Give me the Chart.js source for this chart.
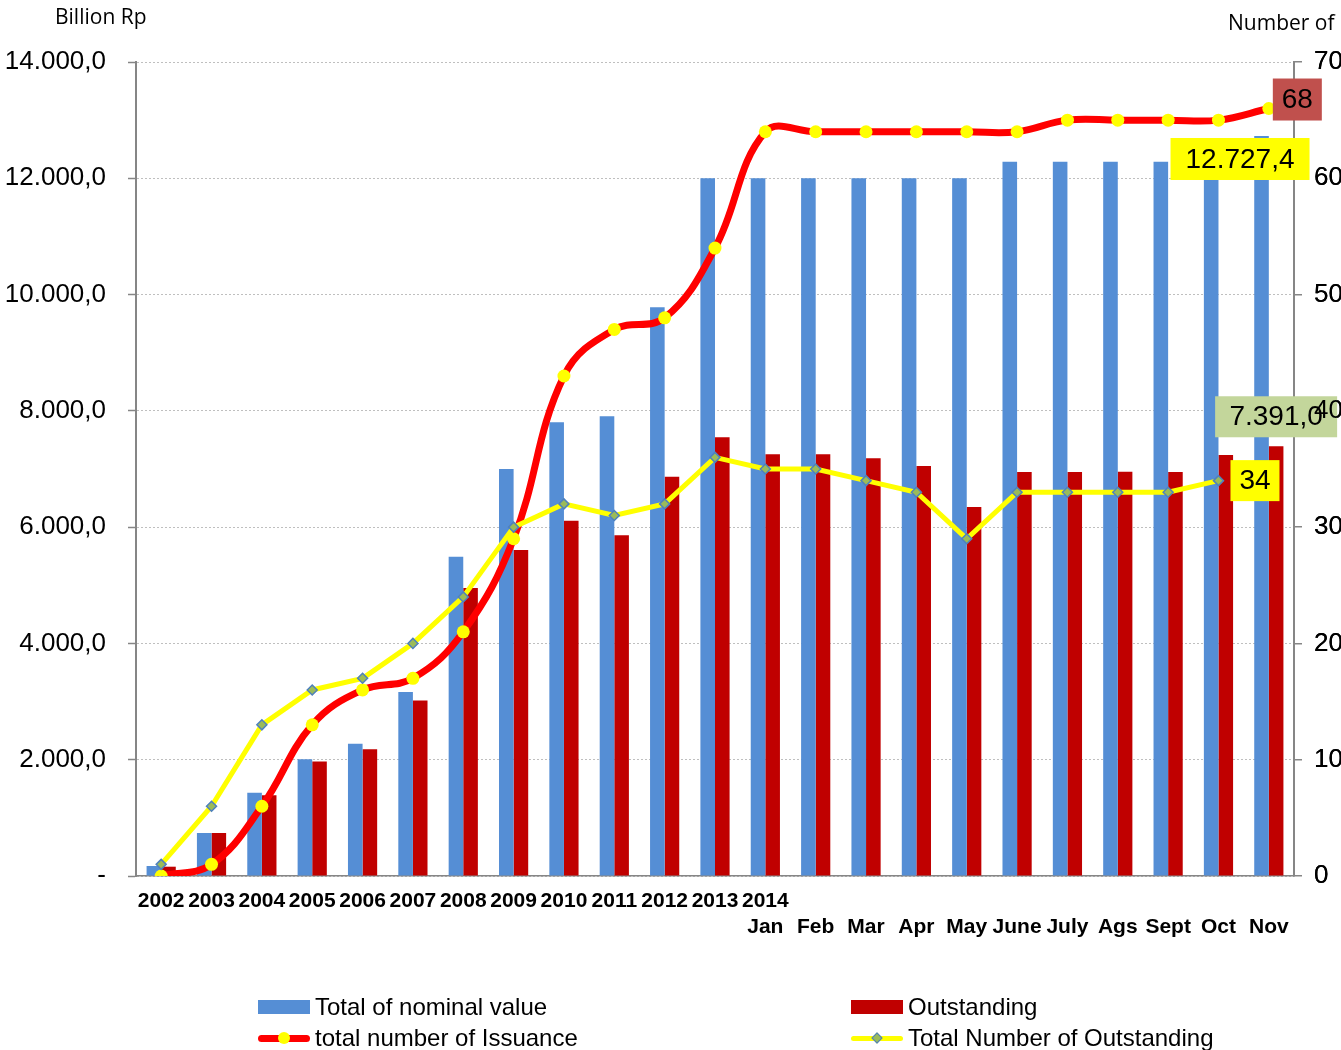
<!DOCTYPE html>
<html>
<head>
<meta charset="utf-8">
<script src="https://cdn.jsdelivr.net/npm/chart.js@4.4.0/dist/chart.umd.min.js"></script>
<style>
  html, body { margin: 0; padding: 0; background: #fff; }
  #wrap { position: relative; width: 1341px; height: 1050px; overflow: hidden; }
  #chart { position: absolute; left: 0; top: 0; }
  .axis-title { position: absolute; font-family: 'Open Sans', sans-serif; font-size: 21px; line-height: 28px; color: #000; white-space: nowrap; }
  .lg-item { position: absolute; height: 28px; display: flex; align-items: center;
             font-family: 'Liberation Sans', Arial, sans-serif; font-size: 24px; color: #000; white-space: nowrap; }
  .lg-icon { position: relative; width: 52px; height: 28px; margin-right: 5px; flex: none; }
</style>
</head>
<body>
<div id="wrap">
  <canvas id="chart" width="1341" height="1050"></canvas>
  <div class="axis-title" style="left:55px; top:2px;">Billion Rp</div>
  <div class="axis-title" style="left:1228px; top:8px;">Number of</div>
  <div id="legend"></div>
</div>
<script>
// kategori: tahunan 2002-2013, lalu bulanan 2014
const yearLabels = ['2002', '2003', '2004', '2005', '2006', '2007', '2008', '2009', '2010', '2011', '2012', '2013'];
const monthYear = '2014';
const monthLabels = ['Jan', 'Feb', 'Mar', 'Apr', 'May', 'June', 'July', 'Ags', 'Sept', 'Oct', 'Nov'];

// Billion Rp
const nominalValue = [172, 740, 1430, 2006, 2275, 3165, 5490, 7000, 7803, 7906, 9781, 12000,
                      12000, 12000, 12000, 12000, 12000, 12285, 12285, 12285, 12285, 12500, 12727.4];
const outstandingValue = [160, 740, 1390, 1970, 2180, 3020, 4953, 5607, 6112, 5860, 6868, 7546,
                          7253, 7253, 7185, 7052, 6347, 6949, 6949, 6954, 6949, 7241, 7391.0];

// jumlah (sumbu kanan)
const issuanceCount = [0, 1, 6, 13, 16, 17, 21, 29, 43, 47, 48, 54,
                       64, 64, 64, 64, 64, 64, 65, 65, 65, 65, 66];
const outstandingCount = [1, 6, 13, 16, 17, 20, 24, 30, 32, 31, 32, 36,
                          35, 35, 34, 33, 29, 33, 33, 33, 33, 34, null];

const seriesNames = ['Total of nominal value', 'Outstanding', 'total number of Issuance', 'Total Number of Outstanding'];
const calloutTexts = ['68', '12.727,4', '7.391,0', '34'];

const categories = yearLabels.map(y => [y])
    .concat(monthLabels.map((m, i) => [i === 0 ? monthYear : '', m]));

function formatRp(v) {
    if (v === 0) return '-';
    const parts = Number(v).toFixed(1).split('.');
    return parts[0].replace(/\B(?=(\d{3})+(?!\d))/g, '.') + ',' + parts[1];
}

const FONT = "'Liberation Sans', Arial, sans-serif";

const calloutPlugin = {
    id: 'callouts',
    afterDatasetsDraw(chart, args, opts) {
        const ctx = chart.ctx;
        opts.items.forEach(item => {
            const el = chart.getDatasetMeta(item.dataset).data[item.index];
            if (!el) return;
            const cx = el.x + item.dx;
            const cy = el.y + item.dy;
            ctx.save();
            ctx.fillStyle = item.fill;
            ctx.fillRect(cx - item.w / 2, cy - item.h / 2, item.w, item.h);
            ctx.font = '28px ' + FONT;
            ctx.fillStyle = '#000';
            ctx.textAlign = 'center';
            ctx.textBaseline = 'middle';
            ctx.fillText(item.text, cx, cy + 1);
            ctx.restore();
        });
        // angka sumbu kanan tetap di atas kotak label
        chart.scales.y1.drawLabels(chart.chartArea);
    }
};

const chart = new Chart(document.getElementById('chart'), {
    type: 'bar',
    data: {
        labels: categories,
        datasets: [
            {
                label: seriesNames[0],
                data: nominalValue,
                backgroundColor: '#558ED5',
                yAxisID: 'y',
                order: 2,
                categoryPercentage: 0.58,
                barPercentage: 1.0
            },
            {
                label: seriesNames[1],
                data: outstandingValue,
                backgroundColor: '#C00000',
                yAxisID: 'y',
                order: 3,
                categoryPercentage: 0.58,
                barPercentage: 1.0
            },
            {
                type: 'line',
                label: seriesNames[2],
                data: issuanceCount,
                yAxisID: 'y1',
                borderColor: '#FF0000',
                borderWidth: 7,
                tension: 0.4,
                pointRadius: 6.5,
                pointBorderWidth: 0,
                pointBackgroundColor: '#FFFF00',
                order: 1
            },
            {
                type: 'line',
                label: seriesNames[3],
                data: outstandingCount,
                yAxisID: 'y1',
                borderColor: '#FFFF00',
                borderWidth: 5,
                tension: 0,
                pointStyle: 'rectRot',
                pointRadius: 5,
                pointBorderWidth: 1.5,
                pointBackgroundColor: '#9BBB59',
                pointBorderColor: '#4F81BD',
                order: 0
            }
        ]
    },
    options: {
        responsive: false,
        animation: false,
        devicePixelRatio: 1,
        layout: { padding: { top: 62, left: 0, right: 0, bottom: 94 } },
        plugins: {
            legend: { display: false },
            tooltip: { enabled: false },
            callouts: {
                items: [
                    { dataset: 2, index: 22, text: calloutTexts[0], fill: '#C0504D', dx: 28.5, dy: -9, w: 49, h: 42 },
                    { dataset: 0, index: 22, text: calloutTexts[1], fill: '#FFFF00', dx: -21.5, dy: 23, w: 139, h: 42 },
                    { dataset: 1, index: 22, text: calloutTexts[2], fill: '#C3D69B', dx: 0, dy: -29.5, w: 122, h: 41 },
                    { dataset: 3, index: 21, text: calloutTexts[3], fill: '#FFFF00', dx: 36.5, dy: 0, w: 49, h: 41 }
                ]
            }
        },
        scales: {
            x: {
                offset: true,
                grid: { display: false, drawTicks: false },
                border: { color: '#868686', width: 1.5 },
                afterFit: s => { s.height = 80; },
                ticks: {
                    autoSkip: false,
                    maxRotation: 0,
                    minRotation: 0,
                    padding: 12,
                    color: '#000',
                    font: { family: FONT, size: 21, weight: 'bold', lineHeight: 1.24 }
                }
            },
            y: {
                position: 'left',
                min: 0,
                max: 14000,
                afterFit: s => { s.width = 136; },
                grid: { color: '#BFBFBF', lineWidth: 1, tickLength: 8, tickColor: '#868686', tickWidth: 1.5 },
                border: { color: '#868686', width: 2, dash: [2, 2] },
                ticks: {
                    stepSize: 2000,
                    padding: 22,
                    color: '#000',
                    font: { family: FONT, size: 26 },
                    callback: v => formatRp(v)
                }
            },
            y1: {
                position: 'right',
                min: 0,
                max: 70,
                afterFit: s => { s.width = 47; },
                grid: { drawOnChartArea: false, tickLength: 8, color: '#868686', lineWidth: 1.5 },
                border: { color: '#868686', width: 2 },
                ticks: {
                    stepSize: 10,
                    padding: 12,
                    color: '#000',
                    font: { family: FONT, size: 26 }
                }
            }
        }
    },
    plugins: [calloutPlugin]
});

// legenda 2 kolom di bawah grafik
function buildLegend() {
    const legend = document.getElementById('legend');
    const places = [[258, 993], [851, 993], [258, 1024], [851, 1024]];
    chart.data.datasets.forEach((ds, i) => {
        const item = document.createElement('div');
        item.className = 'lg-item';
        item.style.left = places[i][0] + 'px';
        item.style.top = places[i][1] + 'px';
        const icon = document.createElement('div');
        icon.className = 'lg-icon';
        if (ds.type === 'line') {
            const line = document.createElement('div');
            const bw = ds.borderWidth;
            line.style.cssText = `position:absolute;left:0;width:52px;top:${14 - bw / 2}px;height:${bw}px;background:${ds.borderColor};border-radius:${bw / 2}px;`;
            icon.appendChild(line);
            const mark = document.createElement('div');
            if (ds.pointStyle === 'rectRot') {
                mark.style.cssText = `position:absolute;left:22px;top:10px;width:6px;height:6px;background:${ds.pointBackgroundColor};border:1.5px solid ${ds.pointBorderColor};transform:rotate(45deg);`;
            } else {
                mark.style.cssText = `position:absolute;left:20px;top:8px;width:12px;height:12px;border-radius:50%;background:${ds.pointBackgroundColor};`;
            }
            icon.appendChild(mark);
        } else {
            const box = document.createElement('div');
            box.style.cssText = `position:absolute;left:0;top:7px;width:52px;height:14px;background:${ds.backgroundColor};`;
            icon.appendChild(box);
        }
        item.appendChild(icon);
        const text = document.createElement('span');
        text.textContent = ds.label;
        item.appendChild(text);
        legend.appendChild(item);
    });
}
buildLegend();
</script>
</body>
</html>
